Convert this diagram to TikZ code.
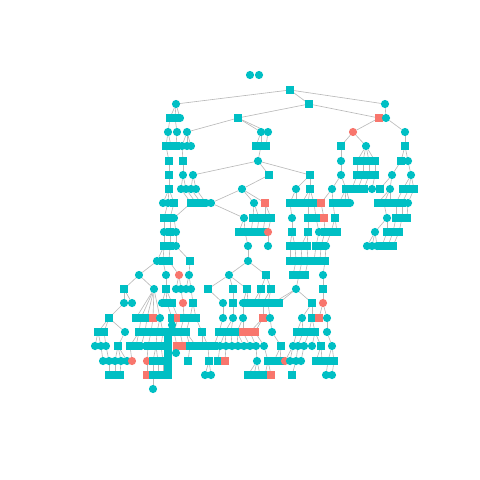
\documentclass[tikz,border=0pt]{standalone}
\usepackage{tikz}
\usetikzlibrary{positioning,backgrounds}
\definecolor{tealc}{HTML}{00BFC4}
\definecolor{salmc}{HTML}{F8766D}
\definecolor{lnkc}{RGB}{185,185,185}
\tikzset{
  tc/.style={circle,fill=tealc,inner sep=0pt,minimum size=0.41cm},   % teal circle
  ts/.style={rectangle,fill=tealc,inner sep=0pt,minimum size=0.37cm}, % teal square
  sc/.style={circle,fill=salmc,inner sep=0pt,minimum size=0.41cm},   % salmon circle
  ss/.style={rectangle,fill=salmc,inner sep=0pt,minimum size=0.37cm}, % salmon square
  lnk/.style={draw=lnkc,line width=0.9pt},
}

\begin{document}
\begin{tikzpicture}[x=0.05cm,y=-0.05cm]
  \useasboundingbox (0,0) rectangle (480,480);
  % tree nodes: id/x/y/style
  \foreach \n/\x/\y/\s in {
    1/250/75/tc, 2/259/75/tc, 3/290/90/ts,
    4/176/104/tc, 5/309/104/ts, 6/385/104/tc,
    7/170/118/ts, 8/175/118/ts, 9/180/118/tc, 10/238/118/ts, 11/379/118/ss, 12/386/118/tc,
    13/168/132/tc, 14/177/132/tc, 15/187/132/tc, 16/261/132/tc, 17/268/132/tc, 18/353/132/sc, 19/405/132/tc,
    20/166/146/ts, 21/171/146/ts, 22/176/146/ts, 23/182/146/tc, 24/187/146/tc, 25/191/146/tc,
    26/256/146/ts, 27/261/146/ts, 28/266/146/ts, 29/341/146/ts, 30/366/146/tc, 31/405/146/ts,
    32/169/161/ts, 33/183/161/ts, 34/258/161/tc, 35/341/161/tc, 36/357/161/ts, 37/363/161/ts,
    38/369/161/ts, 39/375/161/ts, 40/401/161/ts, 41/408/161/tc,
    42/169/175/ts, 43/183/175/tc, 44/193/175/tc, 45/269/175/ts, 46/310/175/ts, 47/341/175/tc,
    48/357/175/ts, 49/363/175/ts, 50/369/175/ts, 51/375/175/ts, 52/392/175/tc, 53/411/175/tc,
    54/169/189/ts, 55/181/189/tc, 56/186/189/tc, 57/191/189/tc, 58/196/189/tc, 59/242/189/tc,
    60/296/189/tc, 61/310/189/ts, 62/332/189/tc, 63/346/189/ts, 64/352/189/ts, 65/358/189/ts,
    66/364/189/ts, 67/372/189/tc, 68/380/189/ts, 69/390/189/tc, 70/403/189/ts, 71/409/189/ts, 72/414/189/ts,
    73/163/203/tc, 74/168/203/tc, 75/174/203/ts, 76/191/203/ts, 77/196/203/ts, 78/201/203/ts,
    79/206/203/tc, 80/211/203/tc, 81/254/203/tc, 82/265/203/ss, 83/290/203/ts, 84/296/203/ts,
    85/302/203/ts, 86/308/203/ts, 87/314/203/ts, 88/321/203/ss, 89/333/203/ts, 90/339/203/ts,
    91/345/203/ts, 92/350/203/tc, 93/378/203/ts, 94/384/203/ts, 95/390/203/ts, 96/396/203/ts,
    97/402/203/ts, 98/408/203/tc,
    99/164/218/ts, 100/170/218/ts, 101/174/218/tc, 102/244/218/tc, 103/253/218/ts, 104/259/218/ts,
    105/265/218/ts, 106/271/218/ts, 107/292/218/tc, 108/308/218/ts, 109/316/218/ts, 110/324/218/ss,
    111/335/218/ts, 112/387/218/tc, 113/396/218/ts, 114/402/218/ts, 115/407/218/ts,
    116/164/232/tc, 117/170/232/ts, 118/176/232/tc, 119/239/232/ts, 120/245/232/ts, 121/251/232/ts,
    122/257/232/ts, 123/263/232/ts, 124/268/232/sc, 125/292/232/ts, 126/308/232/ts, 127/319/232/tc,
    128/325/232/ts, 129/331/232/ts, 130/337/232/ts, 131/375/232/tc, 132/387/232/ts, 133/393/232/ts, 134/399/232/ts,
    135/164/246/ts, 136/170/246/ts, 137/176/246/tc, 138/248/246/tc, 139/268/246/tc, 140/290/246/ts,
    141/295/246/ts, 142/301/246/ts, 143/307/246/ts, 144/316/246/ts, 145/321/246/ts, 146/326/246/tc,
    147/367/246/tc, 148/372/246/tc, 149/377/246/tc, 150/382/246/ts, 151/388/246/ts, 152/393/246/ts,
    153/157/261/tc, 154/163/261/ts, 155/169/261/ts, 156/190/261/ts, 157/248/261/tc, 158/290/261/ts,
    159/296/261/ts, 160/302/261/ts, 161/308/261/ts, 162/314/261/ts, 163/320/261/ts, 164/325/261/ts,
    165/323/275/tc, 166/139/275/tc, 167/166/275/tc, 168/179/275/sc, 169/189/275/tc, 170/229/275/tc,
    171/266/275/ts, 172/293/275/ts, 173/299/275/ts, 174/305/275/ts,
    175/124/289/ts, 176/154/289/tc, 177/166/289/ts, 178/176/289/tc, 179/181/289/tc, 180/186/289/tc,
    181/191/289/tc, 182/208/289/ts, 183/233/289/ts, 184/247/289/ts, 185/261/289/ts, 186/271/289/ts,
    187/296/289/tc, 188/323/289/ts,
    189/124/303/tc, 190/132/303/tc, 191/162/303/tc, 192/167/303/ts, 193/172/303/ts, 194/183/303/sc,
    195/193/303/ts, 196/223/303/tc, 197/233/303/ts, 198/243/303/tc, 199/248/303/ts, 200/253/303/ts,
    201/258/303/ts, 202/263/303/ts, 203/268/303/ts, 204/273/303/ts, 205/279/303/ts, 206/312/303/ts, 207/323/303/sc,
    208/109/318/ts, 209/136/318/ts, 210/141/318/ts, 211/147/318/ts, 212/153/318/ss, 213/160/318/tc,
    214/172/318/ts, 215/178/318/ss, 216/184/318/ts, 217/190/318/ts, 218/196/318/ts, 219/223/318/tc,
    220/233/318/tc, 221/243/318/tc, 222/263/318/ss, 223/270/318/tc, 224/302/318/tc, 225/312/318/ts,
    226/319/318/ss, 227/327/318/tc, 228/172/325/tc,
    229/98/332/ts, 230/104/332/ts, 231/125/332/tc, 232/139/332/ts, 233/145/332/ts, 234/151/332/ts,
    235/157/332/ts, 236/163/332/ts, 237/168/332/ts, 238/174/332/ts, 239/180/332/ts, 240/186/332/ts,
    241/202/332/ts, 242/219/332/ts, 243/225/332/ts, 244/231/332/ts, 245/237/332/ts, 246/243/332/ss,
    247/250/332/ss, 248/255/332/ss, 249/272/332/tc, 250/297/332/ts, 251/303/332/ts, 252/309/332/ts,
    253/315/332/ts, 254/327/332/tc,
    255/95/346/tc, 256/101/346/tc, 257/106/346/tc, 258/118/346/ts, 259/130/346/ts, 260/136/346/ts,
    261/141/346/tc, 262/148/346/ts, 263/156/346/ts, 264/161/346/ts, 265/168/346/ts, 266/177/346/ss,
    267/183/346/ss, 268/190/346/ts, 269/196/346/ts, 270/202/346/ts, 271/208/346/ts, 272/214/346/ts,
    273/220/346/tc, 274/226/346/tc, 275/232/346/tc, 276/238/346/tc, 277/244/346/tc, 278/250/346/tc,
    279/256/346/tc, 280/264/346/tc, 281/281/346/ts, 282/293/346/tc, 283/298/346/tc, 284/304/346/tc,
    285/312/346/tc, 286/321/346/ts, 287/332/346/tc, 288/176/353/tc,
    289/103/361/tc, 290/109/361/tc, 291/115/361/tc, 292/121/361/tc, 293/127/361/tc, 294/132/361/sc,
    295/147/361/sc, 296/153/361/ts, 297/158/361/ts, 298/163/361/ts, 299/168/361/ts, 300/188/361/ts,
    301/209/361/ts, 302/218/361/ts, 303/225/361/ss, 304/257/361/tc, 305/268/361/ts, 306/274/361/ts,
    307/280/361/ts, 308/285/361/sc, 309/290/361/tc, 310/296/361/tc, 311/301/361/tc, 312/316/361/ts,
    313/322/361/ts, 314/328/361/ts, 315/334/361/ts,
    316/109/375/ts, 317/115/375/ts, 318/120/375/ts, 319/147/375/ss, 320/153/375/ts, 321/158/375/ts,
    322/163/375/ts, 323/168/375/ts, 324/205/375/tc, 325/211/375/tc, 326/248/375/ts, 327/254/375/ts,
    328/260/375/ts, 329/265/375/ts, 330/271/375/ss, 331/292/375/ts, 332/326/375/tc, 333/332/375/tc,
    334/153/389/tc, 335/168/339/ts, 336/168/353/ts, 337/168/368/ts}
    \node[\s] (n\n) at (\x,\y) {};
  % parent/child links
  \begin{pgfonlayer}{background}
  \foreach \a/\b in {3/4,3/5,3/6, 4/7,4/8,4/9, 5/10,5/11, 6/12, 7/13, 8/14, 10/15,10/16,10/17, 11/18, 12/19,
    13/20,13/21, 14/22, 15/23,15/24,15/25, 16/26,16/27, 17/28, 18/29,18/30, 19/31, 20/32, 23/33, 27/34,
    29/35, 30/36,30/37,30/38,30/39, 31/40,31/41, 32/42, 33/43, 34/44,34/45,34/46, 35/47, 36/48,37/49,
    38/50,39/51, 40/52, 41/53,
    42/54, 43/55,43/56, 44/57,44/58, 45/59, 46/60,46/61, 47/62,47/63, 48/64, 49/65, 50/66, 51/67,
    52/68,52/69, 53/70,53/71,53/72,
    54/73,54/74,54/75, 55/76, 56/77, 57/78, 58/79, 59/80, 59/81, 59/82, 60/83,60/84, 61/85,61/86,61/87,
    62/88,62/89, 63/90,63/91,63/92, 69/93,69/94,69/95, 70/96, 71/97, 72/98,
    74/99, 75/100, 76/101, 80/102, 81/103,81/104, 82/105,82/106, 83/107, 86/108, 87/109, 88/110, 89/111,
    94/112, 96/113, 97/114, 98/115,
    99/116, 100/117, 101/118, 102/119,102/120, 103/121, 104/122, 105/123, 106/124, 107/125, 108/126,
    109/127, 110/128, 111/129,111/130, 112/131,112/132, 113/133, 114/134,
    116/135, 117/136, 118/137, 120/138, 124/139, 125/140,125/141, 126/142,126/143, 127/144, 128/145,
    129/146, 131/147,131/148,131/149, 132/150, 133/151, 134/152,
    135/153,135/154, 136/155, 137/156, 138/157, 140/158, 141/159, 142/160, 143/161, 144/162, 145/163, 146/164,
    153/166, 154/167, 155/168, 156/169, 157/170, 157/171, 159/172, 160/173, 161/174, 164/165,
    166/175,166/176, 167/177, 168/178,168/179, 169/180,169/181, 170/182,170/183,170/184, 171/185,171/186,
    173/187, 165/188,
    175/189,175/190, 177/191,177/192,177/193, 179/194, 181/195, 182/196, 183/197, 184/198,184/199,
    185/200,185/201, 186/202,186/203, 187/204,187/205,187/206, 188/207,
    189/208, 176/209,176/210,176/211,176/212,176/213, 192/214, 193/215, 194/216, 195/217,195/218, 196/219,
    197/220, 198/221, 202/222, 203/223, 206/224, 206/225, 207/226,207/227, 214/228,
    208/229,208/230,208/231, 210/232, 211/233, 212/234, 213/235,213/236, 228/237, 215/238, 216/239,
    217/240, 218/241, 219/242, 220/243,220/244, 221/245,221/246, 222/247,222/248, 223/249, 224/250,224/251,
    225/252,225/253, 227/254,
    229/255,229/256, 230/257, 231/258, 232/259,232/260, 233/261, 234/262, 235/263, 236/264, 237/265,
    238/266, 239/267, 240/268,240/269, 241/270,241/271, 242/272, 243/273,243/274, 244/275, 245/276,245/277,
    246/278, 247/279, 248/280, 249/281, 250/282, 251/283, 252/284, 253/285,253/286, 254/287, 266/288,
    256/289, 257/290, 258/291,258/292,258/293, 259/294, 262/295, 263/296,263/297, 264/298, 265/299,
    268/300, 271/301, 273/302, 274/303, 279/304, 280/305, 281/306,281/307, 282/308,282/309, 283/310,
    284/311, 286/312,286/313, 287/314,287/315,
    290/316, 291/317, 292/318, 295/319, 296/320, 297/321, 298/322, 299/323, 301/324,301/325,
    304/326,304/327,304/328, 305/329,305/330, 310/331, 314/332, 315/333, 320/334}
    \draw[lnk] (n\a) -- (n\b);
  \end{pgfonlayer}
\end{tikzpicture}
\end{document}
